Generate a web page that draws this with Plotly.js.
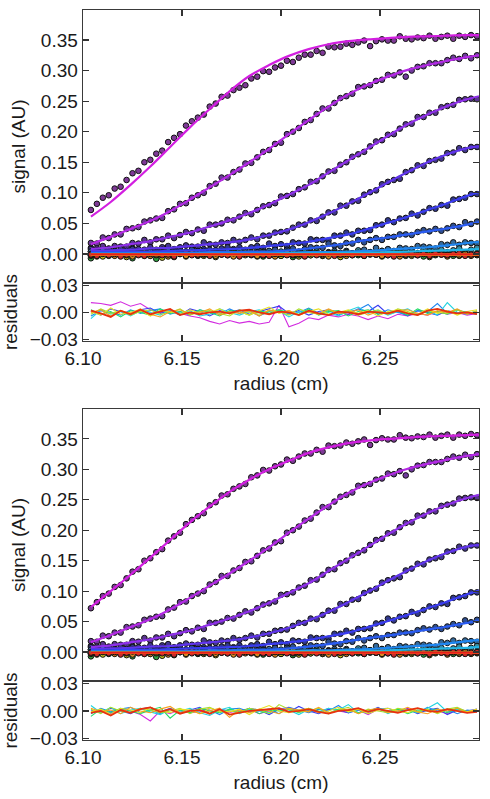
<!DOCTYPE html>
<html><head><meta charset="utf-8">
<script src="https://cdn.plot.ly/plotly-3.0.1.min.js"></script>
<style>html,body{margin:0;padding:0;background:#fff}#chart{width:490px;height:799px}</style>
</head><body><div id="chart"></div>
<script>
// ---------- measured data (same scans shown in both panels) ----------
const radius = [6.104,6.107,6.110,6.113,6.116,6.119,6.122,6.125,6.128,6.131,6.134,6.137,6.140,6.143,6.146,6.149,6.152,6.155,6.158,6.161,6.164,6.167,6.170,6.173,6.176,6.179,6.182,6.185,6.188,6.191,6.194,6.197,6.200,6.203,6.206,6.209,6.212,6.215,6.218,6.221,6.224,6.227,6.230,6.233,6.236,6.239,6.242,6.245,6.248,6.251,6.254,6.257,6.260,6.263,6.266,6.269,6.272,6.275,6.278,6.281,6.284,6.287,6.290,6.293,6.296,6.299];

const scanA = [0.072,0.082,0.092,0.096,0.107,0.110,0.121,0.132,0.136,0.150,0.154,0.164,0.169,0.183,0.190,0.196,0.210,0.217,0.223,0.228,0.241,0.246,0.257,0.259,0.268,0.272,0.276,0.287,0.290,0.299,0.298,0.305,0.308,0.316,0.314,0.321,0.326,0.326,0.332,0.329,0.339,0.338,0.339,0.344,0.342,0.346,0.349,0.340,0.348,0.351,0.349,0.349,0.356,0.352,0.351,0.354,0.353,0.357,0.352,0.355,0.357,0.352,0.357,0.355,0.358,0.356];
const scanB = [0.018,0.017,0.027,0.026,0.032,0.032,0.041,0.042,0.044,0.053,0.055,0.058,0.059,0.070,0.073,0.082,0.083,0.092,0.096,0.100,0.111,0.115,0.125,0.125,0.134,0.138,0.148,0.149,0.158,0.167,0.170,0.180,0.182,0.196,0.200,0.206,0.216,0.219,0.229,0.238,0.238,0.247,0.255,0.258,0.262,0.273,0.274,0.276,0.283,0.285,0.293,0.292,0.297,0.290,0.300,0.306,0.307,0.312,0.312,0.312,0.317,0.321,0.319,0.324,0.320,0.325];
const scanC = [0.010,0.009,0.013,0.009,0.013,0.012,0.012,0.018,0.017,0.023,0.019,0.024,0.024,0.030,0.026,0.031,0.036,0.034,0.040,0.038,0.048,0.048,0.050,0.056,0.055,0.061,0.067,0.065,0.072,0.078,0.080,0.083,0.094,0.095,0.098,0.106,0.109,0.118,0.119,0.127,0.135,0.136,0.146,0.150,0.159,0.163,0.167,0.176,0.184,0.186,0.195,0.196,0.205,0.212,0.213,0.224,0.224,0.231,0.231,0.240,0.242,0.244,0.252,0.253,0.254,0.253];
const scanD = [0.008,0.002,0.006,0.008,0.004,0.008,0.003,0.010,0.008,0.007,0.011,0.007,0.011,0.013,0.008,0.011,0.014,0.012,0.012,0.019,0.016,0.015,0.019,0.018,0.023,0.020,0.023,0.027,0.024,0.030,0.030,0.035,0.036,0.037,0.043,0.048,0.048,0.055,0.054,0.061,0.068,0.068,0.079,0.079,0.086,0.087,0.097,0.101,0.104,0.114,0.118,0.121,0.123,0.134,0.137,0.145,0.144,0.152,0.154,0.156,0.165,0.166,0.173,0.170,0.175,0.175];
const scanE = [0.004,0.006,0.000,0.003,0.005,0.002,0.001,0.008,0.004,0.002,0.005,0.003,0.007,0.003,0.005,0.007,0.002,0.007,0.005,0.008,0.007,0.005,0.009,0.011,0.008,0.011,0.007,0.011,0.013,0.010,0.017,0.013,0.016,0.013,0.019,0.018,0.017,0.024,0.023,0.023,0.022,0.030,0.030,0.035,0.032,0.038,0.038,0.039,0.047,0.048,0.055,0.052,0.058,0.059,0.066,0.063,0.069,0.075,0.074,0.080,0.079,0.089,0.090,0.092,0.098,0.098];
const scanF = [-0.001,0.004,0.002,0.000,0.005,0.003,0.001,-0.002,0.004,0.002,0.005,0.000,0.003,0.001,-0.001,0.004,0.003,0.007,0.001,0.004,0.002,0.006,0.000,0.004,0.006,0.002,0.005,0.000,0.007,0.004,0.003,0.007,0.003,0.007,0.009,0.004,0.008,0.011,0.010,0.010,0.017,0.014,0.013,0.018,0.017,0.023,0.019,0.023,0.026,0.023,0.028,0.028,0.032,0.032,0.031,0.036,0.039,0.037,0.041,0.038,0.042,0.046,0.044,0.052,0.049,0.053];
const scanG = [0.004,0.002,0.006,0.000,0.003,0.001,0.005,-0.001,0.002,0.004,0.000,0.003,-0.002,0.005,0.002,0.001,0.004,0.000,0.003,0.005,-0.001,0.002,0.004,0.001,0.000,0.006,0.002,0.000,0.003,0.001,0.005,0.000,0.002,0.004,-0.001,0.003,0.001,0.004,0.002,0.000,0.003,0.005,0.002,0.005,0.001,0.004,0.007,0.003,0.010,0.005,0.008,0.005,0.010,0.009,0.008,0.013,0.012,0.011,0.009,0.016,0.015,0.019,0.015,0.019,0.018,0.017];
const scanH = [0.000,-0.001,0.005,0.001,-0.001,0.002,0.000,0.004,-0.001,0.001,0.003,-0.002,0.002,0.000,0.003,0.001,-0.001,0.002,0.004,0.000,0.003,-0.002,0.001,0.003,-0.001,0.005,0.000,0.002,-0.002,0.003,0.001,-0.001,0.004,0.002,0.000,-0.003,0.003,0.001,0.004,-0.001,0.002,0.000,-0.002,0.003,0.001,0.006,0.000,0.003,0.001,0.005,0.000,0.003,0.005,0.001,0.004,0.000,0.007,0.004,0.003,0.007,0.003,0.006,0.009,0.003,0.007,0.010];
const scanI = [-0.007,-0.001,0.001,-0.003,0.003,-0.002,0.000,-0.007,0.001,-0.001,-0.003,-0.008,0.000,-0.002,-0.005,0.001,-0.001,0.002,-0.003,0.000,-0.002,-0.004,0.001,-0.001,0.003,-0.003,0.000,-0.002,0.002,-0.004,-0.001,0.001,-0.003,0.000,-0.005,0.002,-0.001,-0.002,0.001,-0.003,0.000,0.002,-0.004,-0.001,0.001,-0.002,-0.003,0.003,-0.001,-0.003,0.000,-0.002,0.002,-0.003,-0.001,0.001,-0.004,0.000,-0.002,0.001,-0.001,-0.003,0.000,0.002,-0.002,0.001];
const scanJ = [-0.003,0.001,-0.004,0.000,-0.002,0.002,-0.005,-0.001,0.001,-0.003,0.000,-0.002,-0.006,0.001,-0.002,0.000,-0.004,0.002,-0.001,-0.003,0.000,-0.005,0.001,-0.002,0.000,-0.003,0.002,-0.001,-0.004,0.000,-0.002,0.001,-0.003,-0.001,0.002,-0.004,0.000,-0.002,0.001,-0.003,-0.001,0.000,-0.005,0.002,-0.002,0.000,-0.003,0.001,-0.001,-0.004,0.000,0.002,-0.002,-0.001,-0.003,0.001,0.000,-0.005,-0.001,0.001,-0.002,0.000,-0.003,0.001,-0.001,-0.002];
const scanK = [-0.002,-0.004,0.000,-0.001,-0.003,0.001,-0.002,-0.004,0.000,0.002,-0.003,-0.001,0.001,-0.004,-0.002,0.000,-0.003,0.001,-0.002,-0.001,0.002,-0.003,-0.001,0.000,-0.004,0.001,-0.002,0.000,-0.003,0.001,-0.001,-0.004,0.000,0.002,-0.002,-0.001,-0.003,0.001,0.000,-0.002,-0.004,0.001,-0.001,-0.003,0.000,0.002,-0.002,-0.001,0.001,-0.003,-0.002,0.000,-0.004,0.001,-0.001,-0.002,0.002,-0.003,0.000,-0.001,-0.004,0.001,-0.002,0.000,-0.003,-0.001];
const scanL = [-0.001,-0.003,0.001,-0.002,0.000,-0.004,-0.001,0.001,-0.002,-0.003,0.000,0.001,-0.002,-0.001,-0.004,0.000,0.002,-0.002,-0.001,0.000,-0.003,0.001,-0.001,-0.002,0.001,-0.004,0.000,-0.001,0.002,-0.002,-0.003,0.000,0.001,-0.002,-0.001,0.000,-0.004,0.001,-0.002,0.000,0.001,-0.003,-0.001,0.000,-0.002,0.001,-0.003,0.000,-0.001,0.002,-0.002,-0.004,0.000,-0.001,0.001,-0.002,0.000,-0.003,0.001,-0.001,-0.002,0.000,0.001,-0.003,-0.001,0.000];

const scanLineColors = ['#d21fe0','#b52ae6','#8f30ea','#6034ec','#3a3cf0','#2a5cf2','#1f86f0','#22b4e6','#22c24a','#c8d81a','#f09a18','#e81c1c'];
const scanMarkerColors = ['#7e3a96','#703a9c','#5a3592','#44388f','#32398c','#2e4f92','#33699c','#3a8ca0','#2f9e40','#c9c420','#d98a22','#c82a2a'];

// ---------- fitted curves ----------
const fitRadius = [6.104,6.114,6.124,6.134,6.144,6.154,6.164,6.174,6.184,6.194,6.204,6.214,6.224,6.234,6.244,6.254,6.264,6.274,6.284,6.294,6.300];
const fitTopA = [0.061,0.085,0.113,0.143,0.175,0.207,0.237,0.266,0.291,0.309,0.324,0.335,0.343,0.348,0.351,0.353,0.355,0.356,0.357,0.358,0.358];
const fitA = [0.074,0.100,0.127,0.155,0.184,0.213,0.239,0.263,0.283,0.300,0.314,0.327,0.336,0.343,0.347,0.350,0.352,0.354,0.355,0.356,0.357];
const fitB = [0.016,0.028,0.041,0.054,0.070,0.089,0.109,0.129,0.150,0.172,0.196,0.219,0.241,0.261,0.277,0.290,0.301,0.309,0.316,0.322,0.325];
const fitC = [0.008,0.011,0.016,0.021,0.028,0.035,0.045,0.055,0.067,0.081,0.097,0.113,0.133,0.153,0.173,0.193,0.212,0.228,0.242,0.253,0.258];
const fitD = [0.005,0.006,0.007,0.009,0.010,0.013,0.016,0.019,0.024,0.031,0.040,0.052,0.066,0.082,0.099,0.117,0.134,0.150,0.163,0.173,0.176];
const fitE = [0.003,0.003,0.004,0.004,0.005,0.006,0.007,0.008,0.010,0.013,0.016,0.020,0.026,0.032,0.041,0.051,0.061,0.072,0.083,0.095,0.101];
const fitF = [0.002,0.002,0.002,0.002,0.002,0.002,0.003,0.003,0.004,0.004,0.006,0.009,0.013,0.018,0.023,0.027,0.032,0.037,0.042,0.048,0.052];
const fitG = [0.001,0.001,0.001,0.001,0.001,0.001,0.002,0.002,0.002,0.002,0.002,0.003,0.003,0.004,0.005,0.007,0.009,0.011,0.014,0.018,0.020];
const fitH = [0.000,0.000,0.000,0.000,0.000,0.000,0.000,0.000,0.000,0.000,0.001,0.001,0.001,0.002,0.002,0.003,0.004,0.005,0.006,0.007,0.008];
const fitI = [-0.001,-0.001,-0.001,-0.001,-0.001,-0.001,-0.001,-0.001,-0.001,-0.001,-0.001,-0.001,-0.001,-0.001,-0.001,-0.001,-0.001,-0.001,-0.001,-0.001,-0.001];
const fitJ = [-0.0012,-0.0012,-0.0012,-0.0012,-0.0012,-0.0012,-0.0012,-0.0012,-0.0012,-0.0012,-0.0012,-0.0012,-0.0012,-0.0012,-0.0012,-0.0012,-0.0012,-0.0012,-0.0012,-0.0012,-0.0012];
const fitK = [-0.0012,-0.0012,-0.0012,-0.0012,-0.0012,-0.0012,-0.0012,-0.0012,-0.0012,-0.0012,-0.0012,-0.0012,-0.0012,-0.0012,-0.0012,-0.0012,-0.0012,-0.0012,-0.0012,-0.0012,-0.0012];
const fitL = [-0.0008,-0.0008,-0.0008,-0.0008,-0.0008,-0.0008,-0.0008,-0.0008,-0.0008,-0.0008,-0.0008,-0.0008,-0.0008,-0.0008,-0.0008,-0.0008,-0.0008,-0.0008,-0.0008,-0.0008,-0.0008];

// ---------- residuals ----------
const residRadius = [6.104,6.109,6.114,6.119,6.124,6.129,6.134,6.139,6.144,6.149,6.154,6.159,6.164,6.169,6.174,6.179,6.184,6.189,6.194,6.199,6.204,6.209,6.214,6.219,6.224,6.229,6.234,6.239,6.244,6.249,6.254,6.259,6.264,6.269,6.274,6.279,6.284,6.289,6.294,6.299];
const residColors = ['#d22ce0','#3a3cf0','#1f86f0','#22d4e0','#22dd66','#a8e02a','#e8e020','#f5a020','#e8300e'];

const topResMagenta = [0.011,0.010,0.008,0.012,0.007,0.010,0.003,0.000,0.002,-0.001,-0.004,-0.006,-0.010,-0.013,-0.009,-0.012,-0.010,-0.013,-0.011,0.008,-0.016,-0.012,-0.006,-0.008,-0.003,-0.005,-0.002,-0.004,-0.008,-0.004,-0.007,-0.002,-0.004,-0.001,-0.003,0.001,-0.002,0.000,-0.003,-0.001];
const topResBlue = [0.002,-0.003,0.004,0.001,-0.002,0.003,0.005,-0.001,0.002,-0.003,0.004,0.001,-0.004,0.002,0.000,0.003,-0.002,0.001,0.004,0.007,-0.001,0.002,-0.003,0.001,0.003,0.000,-0.002,0.004,0.001,0.008,-0.002,0.001,-0.004,0.002,0.000,-0.003,0.002,-0.001,0.001,-0.002];
const topResSky = [-0.004,0.002,0.000,-0.003,0.003,-0.001,0.002,0.004,-0.002,0.001,-0.003,0.003,0.000,-0.002,0.004,-0.001,0.002,-0.004,0.001,0.003,-0.002,0.000,0.005,-0.001,0.002,-0.003,0.001,0.003,0.009,-0.002,0.003,0.000,-0.003,0.002,0.001,0.010,-0.001,0.003,-0.002,0.001];
const topResCyan = [-0.007,0.003,-0.002,0.001,-0.004,0.002,0.000,-0.003,0.003,-0.001,0.002,-0.004,-0.002,0.004,0.000,-0.003,0.001,0.003,-0.002,0.002,-0.005,0.001,0.003,-0.002,0.000,-0.004,0.002,0.006,-0.001,0.002,-0.003,0.001,0.004,-0.002,0.002,-0.003,0.011,0.000,-0.002,0.002];
const topResGreen = [0.003,-0.002,0.001,-0.005,0.002,0.000,-0.003,0.004,-0.001,0.001,-0.002,0.003,0.000,-0.004,0.002,0.001,-0.003,0.002,-0.001,0.003,0.000,-0.002,0.004,-0.003,0.001,0.002,-0.004,0.001,0.003,-0.002,0.000,0.002,-0.003,0.004,-0.001,0.001,-0.002,0.003,0.000,-0.002];
const topResLime = [-0.002,0.004,-0.001,0.002,-0.003,0.001,0.003,-0.002,0.000,0.004,-0.003,0.001,0.002,-0.001,-0.004,0.003,0.000,-0.002,0.002,0.001,-0.003,0.004,0.000,-0.002,0.003,-0.001,0.002,-0.003,0.000,0.003,-0.002,0.004,0.001,-0.003,0.002,0.000,-0.001,0.003,-0.002,0.002];
const topResYellow = [0.001,-0.003,0.005,-0.002,0.000,0.003,-0.004,0.002,0.001,-0.002,0.003,-0.001,0.000,0.004,-0.002,0.001,-0.003,0.002,0.006,-0.001,0.002,-0.003,0.001,0.004,-0.002,0.000,0.003,-0.001,0.002,-0.004,0.001,0.003,0.000,-0.002,0.004,-0.001,0.002,-0.003,0.001,0.003];
const topResOrange = [0.000,0.003,-0.004,0.002,-0.001,0.004,-0.002,-0.005,0.001,0.003,-0.002,0.000,0.004,-0.003,0.001,-0.001,0.002,-0.004,0.003,0.000,0.002,-0.003,0.001,-0.002,0.004,-0.001,0.000,0.003,-0.003,0.001,-0.002,0.002,0.003,-0.001,-0.003,0.002,0.000,0.004,-0.002,0.001];
const topResRed = [0.002,-0.001,-0.005,0.002,-0.002,0.003,-0.002,0.001,0.004,-0.003,0.000,-0.002,0.000,0.001,-0.001,0.002,0.003,0.000,-0.002,0.001,0.000,-0.003,0.002,-0.001,-0.003,0.001,0.000,-0.002,0.001,0.000,-0.001,0.002,-0.001,-0.003,0.002,0.004,0.001,-0.001,0.000,-0.002];

const botResMagenta = [-0.002,0.001,-0.003,0.002,0.000,-0.004,-0.011,0.000,-0.003,0.002,-0.002,-0.001,0.003,0.000,-0.002,0.001,0.002,-0.003,0.000,0.002,0.004,-0.001,0.001,-0.002,0.003,0.000,-0.002,0.001,-0.004,0.002,0.000,-0.001,0.003,-0.002,0.001,0.000,-0.003,0.002,0.000,-0.001];
const botResBlue = [0.001,-0.002,0.003,0.000,-0.003,0.002,0.004,-0.001,0.003,-0.002,0.001,0.004,-0.003,0.002,0.000,-0.002,0.003,0.001,-0.004,0.002,-0.001,0.005,0.000,-0.003,0.002,0.001,-0.002,0.003,-0.001,0.004,-0.002,0.000,0.002,-0.003,0.001,0.003,-0.004,0.001,0.000,0.002];
const botResSky = [-0.003,0.003,-0.001,0.002,0.004,-0.002,0.001,-0.003,0.002,0.000,-0.002,0.003,0.001,-0.004,0.002,0.003,-0.001,0.000,0.002,-0.003,0.004,0.001,-0.002,0.002,0.000,0.006,-0.002,0.001,-0.003,0.002,0.003,-0.001,0.001,-0.002,0.004,0.000,0.002,-0.003,0.001,0.000];
const botResCyan = [0.006,-0.002,0.004,-0.003,0.001,0.003,-0.001,-0.004,0.002,0.000,0.003,-0.002,-0.005,0.001,0.004,-0.003,0.002,0.000,-0.002,0.003,0.001,-0.004,0.002,-0.001,0.003,0.001,0.007,-0.002,0.000,0.003,-0.003,0.002,0.001,-0.002,0.003,0.009,-0.001,0.002,-0.002,0.001];
const botResGreen = [-0.006,0.002,-0.002,0.003,0.000,-0.003,0.001,0.004,-0.008,0.001,-0.002,0.003,0.000,-0.002,0.002,-0.001,0.003,-0.003,0.001,0.000,0.002,-0.002,0.003,0.000,-0.003,0.002,0.001,-0.002,0.000,0.003,-0.001,0.002,-0.003,0.001,0.000,0.002,-0.002,0.003,-0.001,0.000];
const botResLime = [0.002,-0.003,0.004,0.000,-0.002,0.003,0.001,-0.002,0.000,0.003,-0.003,0.002,0.004,-0.001,0.000,-0.002,0.003,0.001,-0.003,0.007,0.002,-0.001,0.000,0.003,-0.002,0.001,0.004,-0.003,0.002,0.000,-0.002,0.003,0.001,-0.001,0.002,-0.003,0.002,0.004,-0.001,0.001];
const botResYellow = [-0.001,0.002,-0.004,0.003,0.001,-0.002,0.004,0.000,-0.002,0.002,0.001,-0.003,0.003,0.000,-0.001,0.002,-0.004,0.002,0.006,0.000,-0.002,0.001,0.003,-0.002,0.000,0.004,-0.001,0.002,-0.003,0.001,0.003,0.000,-0.002,0.003,0.001,-0.002,0.002,0.000,-0.001,0.002];
const botResOrange = [0.003,-0.001,0.001,-0.003,0.004,0.000,-0.002,0.002,0.005,-0.002,0.001,-0.003,0.000,0.003,-0.007,0.001,-0.002,0.002,0.000,-0.003,0.003,0.001,-0.001,0.004,-0.002,0.000,0.002,-0.003,0.001,0.003,-0.002,0.000,0.004,-0.001,-0.003,0.002,0.000,0.003,-0.002,0.001];
const botResRed = [-0.002,0.000,-0.005,0.001,-0.002,0.002,0.004,-0.001,0.002,-0.003,0.000,0.001,-0.003,0.002,-0.004,-0.002,0.000,0.001,0.002,0.003,-0.001,0.000,0.002,-0.001,-0.003,0.000,0.001,0.003,-0.001,0.002,0.000,-0.002,0.001,0.003,0.000,-0.001,0.002,0.000,-0.002,-0.001];

const signalTicks = [0,0.05,0.10,0.15,0.20,0.25,0.30,0.35];
const residTicks = [-0.03,0,0.03];
const radiusTicks = [6.10,6.15,6.20,6.25];

// ---------- build traces ----------
const scans = [scanA,scanB,scanC,scanD,scanE,scanF,scanG,scanH,scanI,scanJ,scanK,scanL];
const fitsBottom = [fitA,fitB,fitC,fitD,fitE,fitF,fitG,fitH,fitI,fitJ,fitK,fitL];
const fitsTop = [fitTopA,fitB,fitC,fitD,fitE,fitF,fitG,fitH,fitI,fitJ,fitK,fitL];
const residTop = [topResMagenta,topResBlue,topResSky,topResCyan,topResGreen,topResLime,topResYellow,topResOrange,topResRed];
const residBot = [botResMagenta,botResBlue,botResSky,botResCyan,botResGreen,botResLime,botResYellow,botResOrange,botResRed];

const traces = [];
function panel(fits, resids, xa, ya, xr, yr){
  scans.forEach((s,i)=>traces.push({type:'scatter',mode:'markers',x:radius,y:s,xaxis:xa,yaxis:ya,
    marker:{size:5.6,color:scanMarkerColors[i],line:{color:'#111',width:1}},hoverinfo:'skip'}));
  fits.forEach((f,i)=>traces.push({type:'scatter',mode:'lines',x:fitRadius,y:f,xaxis:xa,yaxis:ya,
    line:{color:scanLineColors[i],width:2.2,shape:'spline'},hoverinfo:'skip'}));
  resids.forEach((r,i)=>traces.push({type:'scatter',mode:'lines',x:residRadius,y:r,xaxis:xr,yaxis:yr,
    line:{color:residColors[i],width:(i===resids.length-1?1.8:1.1)},hoverinfo:'skip'}));
}
panel(fitsTop, residTop, 'x','y','x2','y2');
panel(fitsBottom, residBot, 'x3','y3','x4','y4');

const FONT = {family:'"Liberation Sans", Arial, Helvetica, sans-serif', size:19, color:'#1a1a1a'};
const frame = {showline:true, linecolor:'#3a3a3a', linewidth:1.4, mirror:'ticks', ticks:'inside', ticklen:6, tickwidth:1.2, tickcolor:'#333', showgrid:false, zeroline:false};
function xMain(anchor){ return Object.assign({}, frame, {anchor:anchor, range:[6.10,6.30], tickvals:radiusTicks, showticklabels:false}); }
function xRes(anchor){ return Object.assign({}, frame, {anchor:anchor, range:[6.10,6.30], tickvals:radiusTicks, tickformat:'.2f', tickfont:FONT, ticklabelstandoff:0,
  title:{text:'radius (cm)', font:FONT, standoff:8}}); }
function yMain(anchor, dom){ return Object.assign({}, frame, {anchor:anchor, domain:dom, range:[-0.0475,0.399], tickvals:signalTicks, tickformat:'.2f', tickfont:FONT,
  title:{text:'signal (AU)', font:FONT, standoff:10}}); }
function yRes(anchor, dom){ return Object.assign({}, frame, {anchor:anchor, domain:dom, range:[-0.032,0.033], tickvals:residTicks, tickformat:'.2f', tickfont:FONT,
  title:{text:'residuals', font:FONT, standoff:10}}); }

const layout = {
  width:490, height:799, margin:{l:83, r:11, t:10, b:59},
  paper_bgcolor:'#ffffff', plot_bgcolor:'#ffffff', showlegend:false, font:FONT,
  xaxis: xMain('y'), yaxis: yMain('x',[0.626,1.0]),
  xaxis2: xRes('y2'), yaxis2: yRes('x2',[0.5466,0.626]),
  xaxis3: xMain('y3'), yaxis3: yMain('x3',[0.0808,0.4534]),
  xaxis4: xRes('y4'), yaxis4: yRes('x4',[0,0.0808])
};
Plotly.newPlot('chart', traces, layout, {displayModeBar:false, staticPlot:true});
</script>
</body></html>
